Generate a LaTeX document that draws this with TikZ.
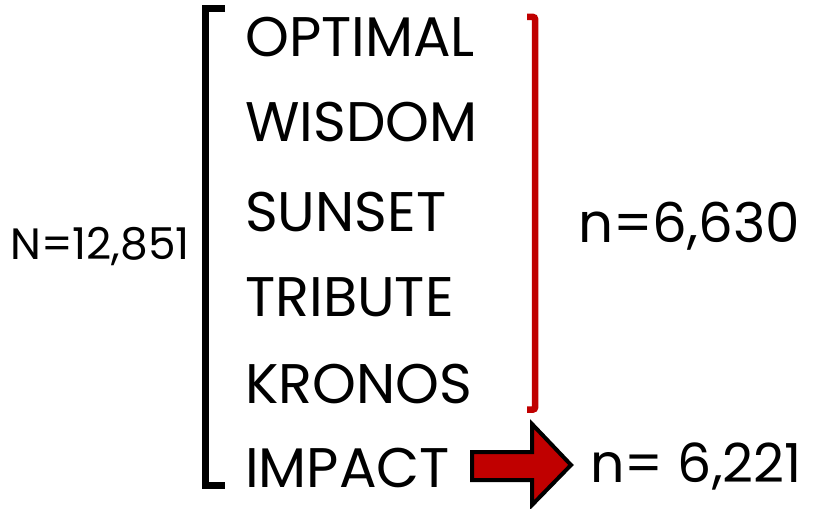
\documentclass[tikz,border=0pt]{standalone}
\usepackage{fontspec}
\setmainfont{Poppins}
\usepackage{tikz}
\usetikzlibrary{calc}
\definecolor{darkred}{HTML}{C00000}

\begin{document}
\begin{tikzpicture}[x=1bp,y=-1bp,
  study/.style={anchor=base west,inner sep=0pt,font=\fontsize{56}{60}\selectfont},
  count/.style={anchor=base west,inner sep=0pt,font=\fontsize{55}{60}\selectfont}]
  \useasboundingbox (0,0) rectangle (817,509);
  % study names, one per row
  \node[study] (optimal) at (245,57) {OPTIMAL};
  \node[study] (wisdom)  at (245,142) {WISDOM};
  \node[study] (sunset)  at (245,232) {SUNSET};
  \node[study] (tribute) at (245,317) {TRIBUTE};
  \node[study] (kronos)  at (245,403) {KRONOS};
  \node[study] (impact)  at (245,487) {IMPACT};
  % totals
  \node[anchor=base west,inner sep=0pt,font=\fontsize{44}{48}\selectfont] (total) at (10,260) {N=12,851};
  \node[count] (first) at (578,243) {n=6,630};
  \node[count,font=\fontsize{54}{58}\selectfont] (second) at (590,482) {n= 6,221};
  % black bracket round all six studies
  \draw[line width=7bp] (225,8.5) -- (205,8.5) -- (205,485) -- (225,485);
  % red bracket round the first five
  \draw[darkred,line width=6.5bp,rounded corners=2bp] (527,17) -- (535,17) -- (535,409.5) -- (527,409.5);
  % block arrow from IMPACT to its count
  \draw[line width=4bp,fill=darkred,miter limit=10]
    (472,452) -- (532,452) -- (532,424) -- (571,465) -- (532,505) -- (532,480) -- (472,480) -- cycle;
\end{tikzpicture}
\end{document}
